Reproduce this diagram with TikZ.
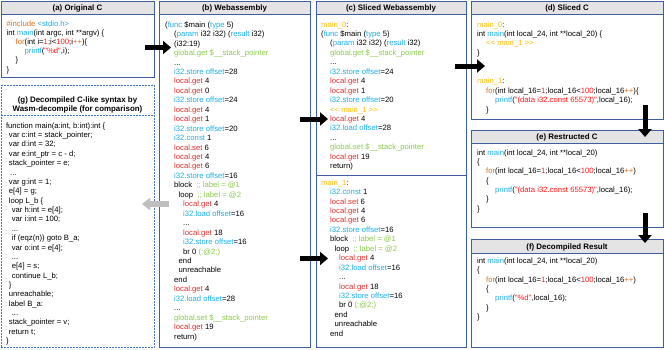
\documentclass[tikz,border=0pt]{standalone}
\usepackage{fontspec}
\setmainfont{Liberation Sans}[Ligatures=TeXOff]
\usetikzlibrary{arrows.meta,fit}
\definecolor{boxblue}{HTML}{3F5E9E}
\definecolor{dashblue}{HTML}{4472C4}
\definecolor{hdrgray}{HTML}{E4E4E4}
\definecolor{wblue}{HTML}{1CB0EC}
\definecolor{wred}{HTML}{DE2F2F}
\definecolor{wgreen}{HTML}{8CCB4C}
\definecolor{wgold}{HTML}{FFC000}
\definecolor{corange}{HTML}{E0701E}
\definecolor{cred}{HTML}{FF1A1A}
\definecolor{arrgray}{HTML}{BFBFBF}
\newcommand\cwb[1]{\textcolor{wblue}{#1}}
\newcommand\cwr[1]{\textcolor{wred}{#1}}
\newcommand\cwg[1]{\textcolor{wgreen}{#1}}
\newcommand\cwy[1]{\textcolor{wgold}{#1}}
\newcommand\cco[1]{\textcolor{corange}{#1}}
\newcommand\ccr[1]{\textcolor{cred}{#1}}
\newcommand\threedots{...}
\begin{document}
\begin{tikzpicture}[x=1pt,y=-1pt,
  code/.style={anchor=base west, inner sep=0pt, font=\fontsize{7.7}{9}\selectfont},
  hdr/.style={anchor=base, inner sep=0pt, font=\fontsize{7.9}{8.7}\selectfont\bfseries},
  box/.style={draw=boxblue, line width=0.9pt, inner sep=0pt},
  hdrbox/.style={draw=boxblue, fill=hdrgray, line width=0.9pt, inner sep=0pt},
  region/.style={inner sep=0pt},
  dbox/.style={draw=dashblue, line width=0.8pt, dash pattern=on 2pt off 1pt, inner sep=0pt},
  divline/.style={draw=boxblue, line width=0.9pt},
  ddivline/.style={draw=dashblue, line width=0.8pt, dash pattern=on 2pt off 1pt},
  bigarrow/.style={draw=black, line width=5pt, -{Triangle[length=8pt,width=13pt]}},
  grayarrow/.style={draw=arrgray, line width=6pt, -{Triangle[length=8pt,width=12pt]}}
]
\fill[white] (0,0) rectangle (664,349);
\useasboundingbox (0,0) rectangle (664,349);

% ---------- boxes ----------
\node[box, fit={(1,1)(154,77.5)}] (A) {};
\node[hdrbox, fit={(1,1)(154,14.5)}] (Ah) {};
\node[hdr] (At) at (77.5,10.7) {(a) Original C};

\node[dbox, fit={(1,85)(154,347.5)}] (G) {};
\node[region, fit={(1,85)(154,115)}] (Gh) {};
\draw[ddivline] (Gh.south west) -- (Gh.south east);
\node[hdr] (Gt1) at (77.5,102.5) {(g) Decompiled C-like syntax by};
\node[hdr] (Gt2) at (77.5,111.2) {Wasm-decompile (for comparison)};

\node[box, fit={(159,1)(310,347.5)}] (B) {};
\node[hdrbox, fit={(159,1)(310,14.5)}] (Bh) {};
\node[hdr] (Bt) at (234.5,10.7) {(b) Webassembly};

\node[box, fit={(316,1)(466,347.5)}] (C) {};
\node[hdrbox, fit={(316,1)(466,14.5)}] (Ch) {};
\node[hdr] (Ct) at (391,10.7) {(c) Sliced Webassembly};
\node[region, fit={(316,1)(466,175.5)}] (Cu) {};
\draw[divline] (Cu.south west) -- (Cu.south east);

\node[box, fit={(471,1)(663,119.5)}] (D) {};
\node[hdrbox, fit={(471,1)(663,14.5)}] (Dh) {};
\node[hdr] (Dt) at (567,10.7) {(d) Sliced C};

\node[box, fit={(471,130)(663,227.5)}] (E) {};
\node[hdrbox, fit={(471,130)(663,143.5)}] (Eh) {};
\node[hdr] (Et) at (567,139.6) {(e) Restructed C};

\node[box, fit={(471,239.5)(663,347.5)}] (F) {};
\node[hdrbox, fit={(471,239.5)(663,253)}] (Fh) {};
\node[hdr] (Ft) at (567,249.1) {(f) Decompiled Result};

% ---------- (a) ----------
\foreach [count=\i] \myx/\mytext in {
6.5/{\cco{\#include} \cwb{<stdio.h>}},
6.5/{int \cwb{main}(int argc, int **argv) \{},
15.5/{\cco{for}(int i=\ccr{1};i<\ccr{100};i\cco{++})\{},
24.5/{\cwb{printf}(\ccr{"\%d"},i);},
15.5/{\}},
6.5/{\}}}
\node[code] (a\i) at (\myx,{26+(\i-1)*9.2}) {\mytext};

% ---------- (g) ----------
\foreach [count=\i] \myx/\mytext in {
5.8/{function main(a:int, b:int):int \{},
8.7/{var c:int = stack\_pointer;},
8.7/{var d:int = 32;},
8.7/{var e:int\_ptr = c - d;},
8.7/{stack\_pointer = e;},
10/{\threedots},
8.7/{var g:int = 1;},
8.7/{e[4] = g;},
8.7/{loop L\_b \{},
11.6/{var h:int = e[4];},
11.6/{var i:int = 100;},
11.6/{\threedots},
11.6/{if (eqz(n)) goto B\_a;},
11.6/{var o:int = e[4];},
11.6/{\threedots},
11.6/{e[4] = s;},
11.6/{continue L\_b;},
8.7/{\}},
8.7/{unreachable;},
8.7/{label B\_a:},
11.6/{\threedots},
8.7/{stack\_pointer = v;},
8.7/{return t;},
5.8/{\}}}
\node[code] (g\i) at (\myx,{128.2+(\i-1)*9.37}) {\mytext};

% ---------- (b) ----------
\foreach [count=\i] \myx/\mytext in {
165/{(\cwb{func} \$main (\cwb{type} 5)},
174/{(\cwb{param} i32 i32) (\cwb{result} i32)},
174/{(i32:19)},
174/{\cwg{global.get \$\_\_stack\_pointer}},
174/{\threedots},
174/{\cwb{i32.store offset}=28},
174/{\cwr{local.get} 4},
174/{\cwr{local.get} 0},
174/{\cwb{i32.store offset}=24},
174/{\cwr{local.get} 4},
174/{\cwr{local.get} 1},
174/{\cwb{i32.store offset}=20},
174/{\cwb{i32.const} 1},
174/{\cwr{local.set} 6},
174/{\cwr{local.get} 4},
174/{\cwr{local.get} 6},
174/{\cwb{i32.store offset}=16},
174/{block \ \cwg{;; label = @1}},
178.5/{loop \ \cwg{;; label = @2}},
183/{\cwr{local.get} 4},
183/{\cwb{i32.load offset}=16},
183/{\threedots},
183/{\cwr{local.get} 18},
183/{\cwb{i32.store offset}=16},
183/{br 0 \cwg{(;@2;)}},
178.5/{end},
178.5/{unreachable},
174/{end},
174/{\cwr{local.get} 4},
174/{\cwb{i32.load offset}=28},
174/{\threedots},
174/{\cwg{global.set \$\_\_stack\_pointer}},
174/{\cwr{local.get} 19},
174/{return)}}
\node[code] (b\i) at (\myx,{27.2+(\i-1)*9.45}) {\mytext};

% ---------- (c) upper ----------
\foreach [count=\i] \myx/\mytext in {
321/{\cwy{main\_0}:},
321/{(\cwb{func} \$main (\cwb{type} 5)},
330/{(\cwb{param} i32 i32) (\cwb{result} i32)},
330/{\cwg{global.get \$\_\_stack\_pointer}},
330/{\threedots},
330/{\cwb{i32.store offset}=24},
330/{\cwr{local.get} 4},
330/{\cwr{local.get} 1},
330/{\cwb{i32.store offset}=20},
330/{\cwy{<< main\_1 >>}},
330/{\cwr{local.get} 4},
330/{\cwb{i32.load offset}=28},
330/{\threedots},
330/{\cwg{global.set \$\_\_stack\_pointer}},
330/{\cwr{local.get} 19},
330/{return)}}
\node[code] (cu\i) at (\myx,{27+(\i-1)*9.45}) {\mytext};

% ---------- (c) lower ----------
\foreach [count=\i] \myx/\mytext in {
321/{\cwy{main\_1}:},
330/{\cwb{i32.const} 1},
330/{\cwr{local.set} 6},
330/{\cwr{local.get} 4},
330/{\cwr{local.get} 6},
330/{\cwb{i32.store offset}=16},
330/{block \ \cwg{;; label = @1}},
334.5/{loop \ \cwg{;; label = @2}},
339/{\cwr{local.get} 4},
339/{\cwb{i32.load offset}=16},
339/{\threedots},
339/{\cwr{local.get} 18},
339/{\cwb{i32.store offset}=16},
339/{br 0 \cwg{(;@2;)}},
334.5/{end},
334.5/{unreachable},
330/{end}}
\node[code] (cl\i) at (\myx,{185.1+(\i-1)*9.45}) {\mytext};

% ---------- (d) ----------
\foreach [count=\i] \myx/\myk/\mytext in {
477/0/{\cwy{main\_0}:},
477/1/{int \cwb{main}(int local\_24, int **local\_20) \{},
486/2/{\cwy{<< main\_1 >>}},
477/3/{\}},
477/6/{\cwy{main\_1}:},
486/7/{\cco{for}(int local\_16=\ccr{1};local\_16<\ccr{100};local\_16\cco{++})\{},
495/8/{\cwb{printf}(\ccr{"(data i32.const 65573)"},local\_16);},
486/9/{\}}}
\node[code] (d\i) at (\myx,{27+\myk*9.45}) {\mytext};

% ---------- (e) ----------
\foreach [count=\i] \myx/\mytext in {
477/{int \cwb{main}(int local\_24, int **local\_20)},
477/{\{},
486/{\cco{for}(int local\_16=\ccr{1};local\_16<\ccr{100};local\_16\cco{++})},
486/{\{},
495/{\cwb{printf}(\ccr{"(data i32.const 65573)"},local\_16);},
486/{\}},
477/{\}}}
\node[code] (e\i) at (\myx,{155.3+(\i-1)*9.3}) {\mytext};

% ---------- (f) ----------
\foreach [count=\i] \myx/\mytext in {
477/{int \cwb{main}(int local\_24, int **local\_20)},
477/{\{},
486/{\cco{for}(int local\_16=\ccr{1};local\_16<\ccr{100};local\_16\cco{++})},
486/{\{},
495/{\cwb{printf}(\ccr{"\%d"},local\_16);},
486/{\}},
477/{\}}}
\node[code] (f\i) at (\myx,{263.3+(\i-1)*9.4}) {\mytext};

% ---------- arrows ----------
\coordinate (ab1) at (145,47.5);  \coordinate (ab2) at (171,47.5);
\coordinate (bc1) at (300,119);   \coordinate (bc2) at (328,119);
\coordinate (bc3) at (300,258.5); \coordinate (bc4) at (328,258.5);
\coordinate (cd1) at (455,66);    \coordinate (cd2) at (485,66);
\coordinate (de1) at (645,105);   \coordinate (de2) at (645,137);
\coordinate (ef1) at (645,213);   \coordinate (ef2) at (645,243);
\coordinate (bg1) at (169,204);   \coordinate (bg2) at (142,204);
\draw[bigarrow] (ab1) -- (ab2);
\draw[bigarrow] (bc1) -- (bc2);
\draw[bigarrow] (bc3) -- (bc4);
\draw[bigarrow] (cd1) -- (cd2);
\draw[bigarrow] (de1) -- (de2);
\draw[bigarrow] (ef1) -- (ef2);
\draw[grayarrow] (bg1) -- (bg2);
\end{tikzpicture}
\end{document}
